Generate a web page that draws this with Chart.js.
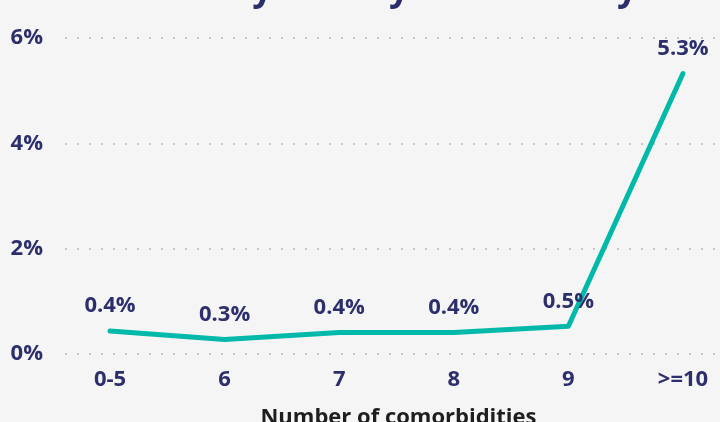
<!DOCTYPE html>
<html>
<head>
<meta charset="utf-8">
<script src="https://cdn.jsdelivr.net/npm/chart.js@4.4.1/dist/chart.umd.min.js"></script>
<style>
  html, body { margin: 0; padding: 0; background: #f5f5f5; }
  #wrap { width: 720px; height: 422px; overflow: hidden; position: relative; background: #f5f5f5; }
  #box { position: absolute; left: 0; top: -32px; width: 732px; height: 467px; }
</style>
</head>
<body>
<div id="wrap"><div id="box"><canvas id="c" width="732" height="467"></canvas></div></div>
<script>
const chartTitle = "Mortality rate by comorbidity";
const xAxisTitle = "Number of comorbidities";
const categories = ["0-5", "6", "7", "8", "9", ">=10"];
const mortality = [0.44, 0.28, 0.41, 0.41, 0.53, 5.33];
const valueLabels = ["0.4%", "0.3%", "0.4%", "0.4%", "0.5%", "5.3%"];
const yTicks = [0, 2, 4, 6];

const NAVY = "#2c2f6c";
const FONT = "'Open Sans', 'Noto Sans', sans-serif";

const valueLabelPlugin = {
  id: "valueLabels",
  afterDatasetsDraw(chart) {
    const ctx = chart.ctx;
    const meta = chart.getDatasetMeta(0);
    ctx.save();
    ctx.font = "bold 22px " + FONT;
    ctx.fillStyle = NAVY;
    ctx.textAlign = "center";
    ctx.textBaseline = "middle";
    meta.data.forEach((pt, i) => {
      ctx.fillText(valueLabels[i], pt.x, pt.y - 25);
    });
    ctx.restore();
  }
};

new Chart(document.getElementById("c"), {
  type: "line",
  data: {
    datasets: [{
      data: mortality.map((v, i) => ({ x: i, y: v })),
      borderColor: "#00b9a9",
      borderWidth: 5,
      tension: 0,
      pointRadius: 0,
      pointHoverRadius: 0,
      borderCapStyle: "round",
      borderJoinStyle: "round",
      fill: false
    }]
  },
  options: {
    responsive: false,
    animation: false,
    events: [],
    layout: { padding: { left: 10, right: 0, top: 0, bottom: 0 } },
    plugins: {
      legend: { display: false },
      tooltip: { enabled: false },
      title: {
        display: true,
        text: chartTitle,
        color: NAVY,
        font: { family: FONT, size: 36, weight: "bold" },
        padding: { top: 0, bottom: 27 }
      }
    },
    scales: {
      x: {
        type: "linear",
        min: -0.393,
        max: 5.428,
        grid: { display: false, drawTicks: false },
        border: { display: false },
        afterFit: (s) => { s.paddingLeft = 0; s.paddingRight = 0; },
        ticks: {
          stepSize: 1,
          includeBounds: false,
          autoSkip: false,
          maxRotation: 0,
          padding: 12,
          color: NAVY,
          font: { family: FONT, size: 22, weight: "bold" },
          callback: (v) => (Number.isInteger(v) && categories[v] !== undefined) ? categories[v] : ""
        },
        title: {
          display: true,
          text: xAxisTitle,
          color: "#1e1e1e",
          font: { family: FONT, size: 22, weight: "bold" },
          padding: { top: 0, bottom: 4 }
        }
      },
      y: {
        min: 0,
        max: 6,
        afterBuildTicks: (axis) => { axis.ticks = yTicks.map(v => ({ value: v })); },
        afterFit: (s) => { s.width = 55; },
        grid: { color: "#c6c6c6", lineWidth: 2, drawTicks: false, borderDash: [2, 10] },
        border: { display: false, dash: [2, 10] },
        ticks: {
          padding: 22,
          color: NAVY,
          font: { family: FONT, size: 22, weight: "bold" },
          callback: (v) => v + "%"
        }
      }
    }
  },
  plugins: [valueLabelPlugin]
});
</script>
</body>
</html>
